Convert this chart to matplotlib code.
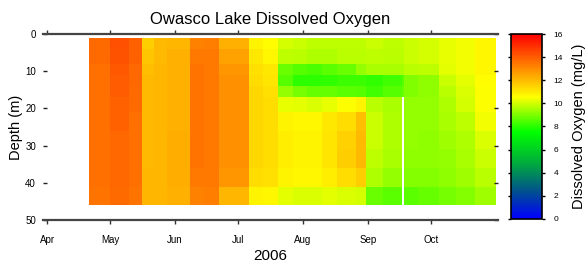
import numpy as np
import pandas as pd
import matplotlib
matplotlib.use("Agg")
import matplotlib.pyplot as plt
import matplotlib.dates as mdates
from matplotlib.colors import LinearSegmentedColormap

plt.rcParams['font.family'] = ['Liberation Sans', 'DejaVu Sans']

# Fechas de los bordes de cada columna de perfiles (2006)
date_edges = ["2006-04-21", "2006-05-01", "2006-05-10", "2006-05-16", "2006-05-22",
              "2006-05-28", "2006-06-08", "2006-06-15", "2006-06-22", "2006-07-06",
              "2006-07-13", "2006-07-20", "2006-07-27", "2006-08-03", "2006-08-10",
              "2006-08-17", "2006-08-26", "2006-08-31", "2006-09-08", "2006-09-17",
              "2006-09-18", "2006-09-25", "2006-10-05", "2006-10-13", "2006-10-22",
              "2006-11-01"]

# Bordes de profundidad (m)
depth_edges = [1, 4, 8, 11, 14, 17, 21, 26, 31, 36, 41, 46]

nan = np.nan
# Oxigeno disuelto (mg/L), una fila por capa de profundidad
do_1_4 = [13.7, 14.3, 13.9, 11.6, 12.0, 12.1, 13.2, 13.3, 12.2, 10.8, 10.6, 10.0, 9.9,
          9.8, 9.8, 9.8, 9.8, 9.9, 9.8, 9.8, 9.9, 10.0, 10.3, 10.4, 10.7]
do_4_8 = [13.7, 14.2, 13.9, 11.8, 12.0, 12.2, 13.4, 13.4, 12.5, 11.0, 10.7, 9.8, 9.7,
          9.6, 9.6, 9.7, 9.7, 9.8, 9.7, 9.7, 9.9, 10.0, 10.3, 10.4, 10.7]
do_8_11 = [13.6, 14.1, 13.8, 11.9, 12.1, 12.2, 13.5, 13.4, 12.8, 11.2, 11.0, 8.8, 8.5,
           8.4, 8.6, 8.8, 9.3, 9.5, 9.5, 9.5, 9.7, 9.8, 10.2, 10.4, 10.7]
do_11_14 = [13.6, 14.0, 13.8, 12.0, 12.1, 12.2, 13.5, 13.4, 12.9, 11.3, 11.1, 8.5, 8.0,
            8.0, 8.1, 8.2, 8.2, 8.1, 8.3, 8.5, 9.0, 9.2, 9.9, 10.2, 10.6]
do_14_17 = [13.6, 14.0, 13.7, 12.0, 12.1, 12.2, 13.5, 13.4, 12.9, 11.4, 11.2, 9.3, 8.9,
            8.7, 8.7, 8.6, 8.5, 8.3, 8.5, 8.7, 9.0, 9.2, 9.7, 10.1, 10.5]
do_17_21 = [13.6, 13.9, 13.7, 12.0, 12.1, 12.2, 13.5, 13.4, 12.9, 11.4, 11.3, 10.3, 10.2,
            10.1, 10.3, 10.5, 10.8, 9.7, 9.5, nan, 9.3, 9.3, 9.6, 10.0, 10.5]
do_21_26 = [13.6, 13.9, 13.6, 12.0, 12.1, 12.2, 13.5, 13.4, 12.9, 11.4, 11.3, 10.8, 10.7,
            10.7, 11.0, 11.3, 11.9, 9.9, 9.6, nan, 9.3, 9.3, 9.5, 9.8, 10.4]
do_26_31 = [13.6, 13.8, 13.6, 12.0, 12.1, 12.3, 13.5, 13.4, 12.9, 11.4, 11.3, 10.9, 10.8,
            10.8, 11.1, 11.5, 12.0, 9.9, 9.6, nan, 9.3, 9.2, 9.4, 9.6, 10.1]
do_31_36 = [13.6, 13.8, 13.6, 12.0, 12.1, 12.3, 13.5, 13.4, 12.9, 11.4, 11.3, 10.9, 10.8,
            10.8, 11.1, 11.6, 12.0, 9.8, 9.5, nan, 9.2, 9.2, 9.3, 9.5, 9.9]
do_36_41 = [13.6, 13.8, 13.6, 12.1, 12.1, 12.3, 13.4, 13.4, 12.8, 11.3, 11.2, 10.8, 10.7,
            10.7, 10.9, 11.3, 11.6, 9.6, 9.3, nan, 9.1, 9.1, 9.2, 9.4, 9.7]
do_41_46 = [13.5, 13.7, 13.5, 12.1, 12.1, 12.2, 13.2, 13.3, 12.1, 10.8, 10.7, 10.2, 10.1,
            10.1, 10.2, 10.1, 10.0, 8.8, 8.6, nan, 8.6, 8.7, 8.9, 9.1, 9.4]

month_labels = ["Apr", "May", "Jun", "Jul", "Aug", "Sep", "Oct"]

do_grid = np.ma.masked_invalid(np.array([do_1_4, do_4_8, do_8_11, do_11_14, do_14_17,
                                         do_17_21, do_21_26, do_26_31, do_31_36,
                                         do_36_41, do_41_46]))
x_edges = mdates.date2num(pd.to_datetime(date_edges))

# Paleta azul - verde - amarillo - rojo
cmap = LinearSegmentedColormap.from_list("do_cmap", [
    (0.0, (0.0, 0.0, 1.0)),
    (0.15, (0.0, 0.32, 0.55)),
    (0.3, (0.0, 0.67, 0.24)),
    (0.47, (0.0, 1.0, 0.0)),
    (0.66, (1.0, 1.0, 0.0)),
    (1.0, (1.0, 0.0, 0.0)),
])

fig = plt.figure(figsize=(5.85, 2.7), dpi=100)
ax = fig.add_axes([0.0735, 0.185, 0.778, 0.689])
cax = fig.add_axes([0.8735, 0.189, 0.053, 0.685])

mesh = ax.pcolormesh(x_edges, depth_edges, do_grid, cmap=cmap, vmin=0, vmax=16,
                     shading='flat', antialiased=False, linewidth=0)

ax.set_xlim(mdates.date2num(pd.Timestamp("2006-03-30")),
            mdates.date2num(pd.Timestamp("2006-11-02")))
ax.set_ylim(50, 0)

month_ticks = pd.date_range("2006-04-01", periods=len(month_labels), freq="MS")
ax.set_xticks(mdates.date2num(month_ticks))
ax.set_xticklabels(month_labels)
ax.set_yticks([0, 10, 20, 30, 40, 50])

ax.spines['left'].set_visible(False)
ax.spines['right'].set_visible(False)
for s in ['top', 'bottom']:
    ax.spines[s].set_linewidth(1.6)
    ax.spines[s].set_color('#444444')

ax.tick_params(axis='x', which='both', direction='out', top=True, bottom=True,
               length=3, width=1, labelsize=7, pad=8, color='#333333')
ax.tick_params(axis='y', direction='in', left=True, right=True, length=3, width=1,
               labelsize=7, pad=5, color='#222222')

ax.set_title("Owasco Lake Dissolved Oxygen", fontsize=12, pad=7)
ax.set_xlabel("2006", fontsize=11, labelpad=3)
ax.set_ylabel("Depth (m)", fontsize=10.5, labelpad=2)

cbar = fig.colorbar(mesh, cax=cax, ticks=range(0, 17, 2))
cbar.outline.set_linewidth(1.2)
cax.tick_params(direction='out', left=True, right=True, length=2.5, width=1,
                labelsize=6, pad=6)
cbar.set_label("Dissolved Oxygen (mg/L)", fontsize=10.5, labelpad=6)

fig.savefig("out.png", dpi=100)
